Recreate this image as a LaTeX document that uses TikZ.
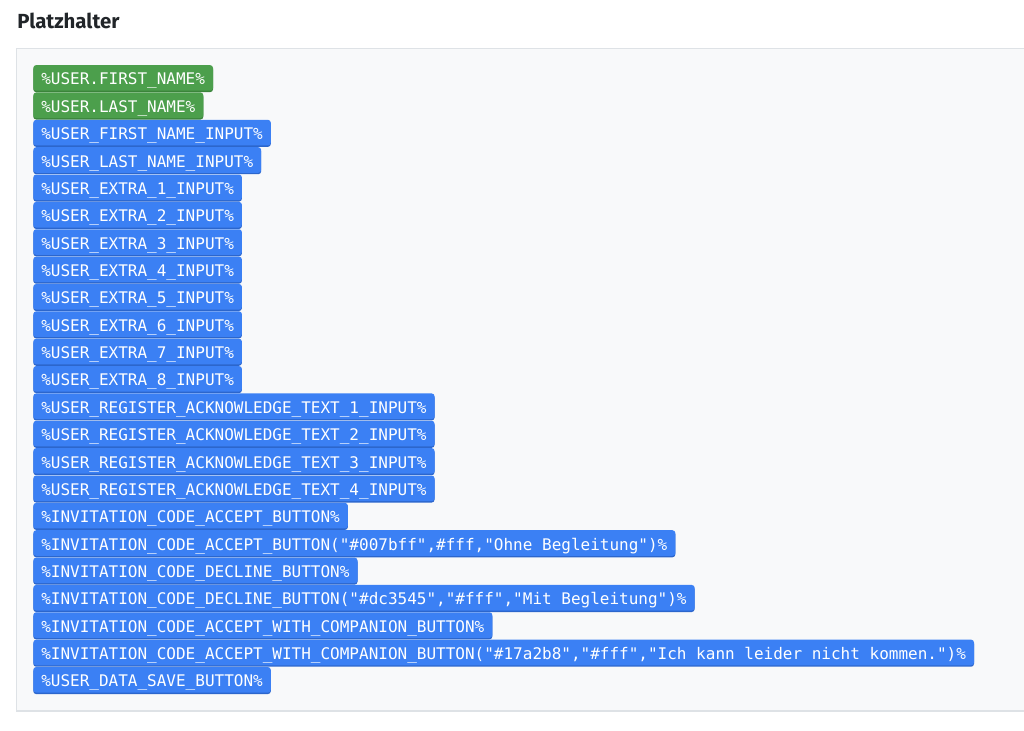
\documentclass[tikz,border=0pt]{standalone}
\usepackage{fontspec}
\setmainfont{Fira Sans}
\newfontfamily\codefont{DejaVu Sans Mono}
\usetikzlibrary{shadows}
\definecolor{panelbg}{HTML}{F8F9FA}
\definecolor{panelline}{HTML}{DEE2E6}
\definecolor{tagblue}{HTML}{3B80F4}
\definecolor{tagbluedark}{HTML}{2C66CC}
\definecolor{taggreen}{HTML}{4C9F4C}
\definecolor{taggreendark}{HTML}{3B843B}
\definecolor{titlecol}{HTML}{212529}
\tikzset{
  tag/.style={anchor=west, inner xsep=6pt, inner ysep=0pt, minimum height=19.2pt,
    text height=11.3pt, text depth=0.7pt, rounded corners=2.2pt, text=white,
    font=\codefont\fontsize{12}{14}\selectfont},
  bluetag/.style={tag, fill=tagblue,
    drop shadow={shadow xshift=0pt, shadow yshift=-1.1pt, fill=tagbluedark, opacity=1}},
  greentag/.style={tag, fill=taggreen,
    drop shadow={shadow xshift=0pt, shadow yshift=-1.1pt, fill=taggreendark, opacity=1}},
}
\begin{document}
\begin{tikzpicture}[x=0.75pt, y=-0.75pt]
\useasboundingbox (0,0) rectangle (1024,731);
\fill[white] (0,0) rectangle (1024,731);
\node[anchor=base west, inner sep=0pt, text=titlecol, font=\fontsize{15.3}{17}\selectfont\bfseries] (title) at (17,29) {Platzhalter};
\draw[panelline, fill=panelbg, line width=0.9pt] (1030,48.5) -- (16.5,48.5) -- (16.5,711) -- (1030,711);
\node[greentag] (b1) at (33,77.9) {\%USER.FIRST\_NAME\%};
\node[greentag] (b2) at (33,105.26) {\%USER.LAST\_NAME\%};
\node[bluetag] (b3) at (33,132.62) {\%USER\_FIRST\_NAME\_INPUT\%};
\node[bluetag] (b4) at (33,159.98) {\%USER\_LAST\_NAME\_INPUT\%};
\node[bluetag] (b5) at (33,187.34) {\%USER\_EXTRA\_1\_INPUT\%};
\node[bluetag] (b6) at (33,214.7) {\%USER\_EXTRA\_2\_INPUT\%};
\node[bluetag] (b7) at (33,242.06) {\%USER\_EXTRA\_3\_INPUT\%};
\node[bluetag] (b8) at (33,269.42) {\%USER\_EXTRA\_4\_INPUT\%};
\node[bluetag] (b9) at (33,296.78) {\%USER\_EXTRA\_5\_INPUT\%};
\node[bluetag] (b10) at (33,324.14) {\%USER\_EXTRA\_6\_INPUT\%};
\node[bluetag] (b11) at (33,351.5) {\%USER\_EXTRA\_7\_INPUT\%};
\node[bluetag] (b12) at (33,378.86) {\%USER\_EXTRA\_8\_INPUT\%};
\node[bluetag] (b13) at (33,406.22) {\%USER\_REGISTER\_ACKNOWLEDGE\_TEXT\_1\_INPUT\%};
\node[bluetag] (b14) at (33,433.58) {\%USER\_REGISTER\_ACKNOWLEDGE\_TEXT\_2\_INPUT\%};
\node[bluetag] (b15) at (33,460.94) {\%USER\_REGISTER\_ACKNOWLEDGE\_TEXT\_3\_INPUT\%};
\node[bluetag] (b16) at (33,488.3) {\%USER\_REGISTER\_ACKNOWLEDGE\_TEXT\_4\_INPUT\%};
\node[bluetag] (b17) at (33,515.66) {\%INVITATION\_CODE\_ACCEPT\_BUTTON\%};
\node[bluetag] (b18) at (33,543.02) {\%INVITATION\_CODE\_ACCEPT\_BUTTON("\#007bff",\#fff,"Ohne Begleitung")\%};
\node[bluetag] (b19) at (33,570.38) {\%INVITATION\_CODE\_DECLINE\_BUTTON\%};
\node[bluetag] (b20) at (33,597.74) {\%INVITATION\_CODE\_DECLINE\_BUTTON("\#dc3545","\#fff","Mit Begleitung")\%};
\node[bluetag] (b21) at (33,625.1) {\%INVITATION\_CODE\_ACCEPT\_WITH\_COMPANION\_BUTTON\%};
\node[bluetag] (b22) at (33,652.46) {\%INVITATION\_CODE\_ACCEPT\_WITH\_COMPANION\_BUTTON("\#17a2b8","\#fff","Ich kann leider nicht kommen.")\%};
\node[bluetag] (b23) at (33,679.82) {\%USER\_DATA\_SAVE\_BUTTON\%};
\end{tikzpicture}
\end{document}
